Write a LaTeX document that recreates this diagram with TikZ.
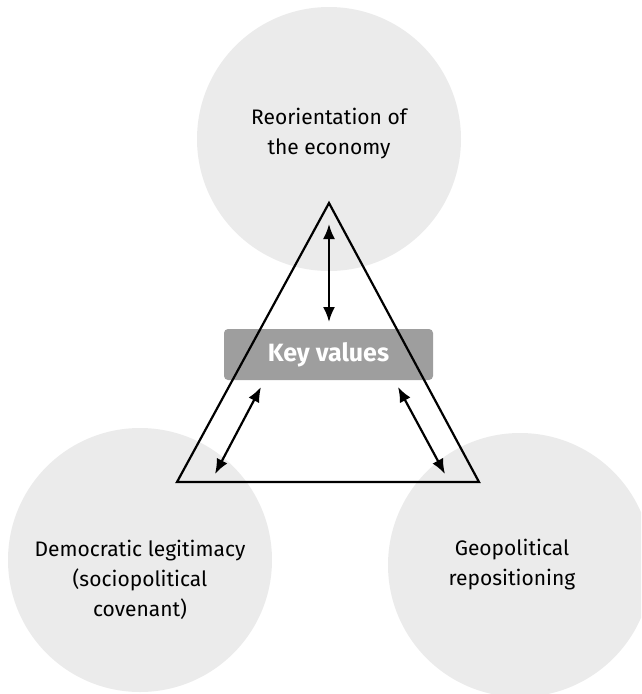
\documentclass[tikz,border=0pt]{standalone}
\usepackage{fontspec}
\setmainfont{Fira Sans}
\usetikzlibrary{arrows.meta}
\definecolor{circlegray}{HTML}{EBEBEB}
\definecolor{boxgray}{HTML}{9E9E9E}
\begin{document}
\begin{tikzpicture}[x=1pt,y=-1pt,
  bubble/.style={circle,fill=circlegray,minimum size=264pt,inner sep=0pt},
  lbl/.style={align=center,font=\fontsize{21}{30}\selectfont,text=black},
  keybox/.style={rounded corners=4pt,fill=boxgray,minimum width=209pt,minimum height=51pt,inner sep=0pt,
    font=\fontsize{25}{28}\selectfont\bfseries,text=white},
  tri/.style={line width=2.2pt,line join=miter},
  dbl/.style={line width=2.2pt,{Latex[length=15pt,width=12pt]}-{Latex[length=15pt,width=12pt]}}
]
\useasboundingbox (0,0) rectangle (641,694);
\clip (0,0) rectangle (641,694);
\node[bubble] (top) at (329,139) {};
\node[bubble] (left) at (140,560) {};
\node[bubble] (right) at (520,565) {};
\node[lbl] (toptext) at (329,134) {Reorientation of\\the economy};
\node[lbl] (lefttext) at (140,580) {Democratic legitimacy\\(sociopolitical\\covenant)};
\node[lbl] (righttext) at (512,565) {Geopolitical\\repositioning};
\node[keybox] (key) at (328.5,354.5) {Key values};
\coordinate (apex) at (329,203);
\coordinate (bl) at (177,482);
\coordinate (br) at (479,482);
\draw[tri] (apex) -- (bl) -- (br) -- cycle;
\coordinate (a1) at (329,224);
\coordinate (a2) at (329,322);
\coordinate (b1) at (261,387);
\coordinate (b2) at (215,474);
\coordinate (c1) at (398,387);
\coordinate (c2) at (445,474);
\draw[dbl] (a1) -- (a2);
\draw[dbl] (b1) -- (b2);
\draw[dbl] (c1) -- (c2);
\end{tikzpicture}
\end{document}
